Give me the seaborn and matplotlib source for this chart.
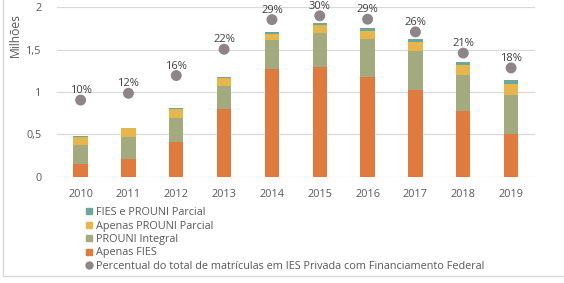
import matplotlib
matplotlib.use("Agg")
import matplotlib.pyplot as plt
import seaborn as sns
import numpy as np
import pandas as pd
from matplotlib.lines import Line2D
from matplotlib.patches import Rectangle

years = ["2010", "2011", "2012", "2013", "2014", "2015", "2016", "2017", "2018", "2019"]
apenas_fies = [0.146, 0.205, 0.41, 0.80, 1.27, 1.30, 1.18, 1.02, 0.78, 0.51]
prouni_integral = [0.234, 0.265, 0.28, 0.27, 0.34, 0.40, 0.45, 0.46, 0.42, 0.46]
apenas_prouni_parcial = [0.09, 0.10, 0.11, 0.09, 0.07, 0.09, 0.09, 0.11, 0.12, 0.12]
fies_prouni_parcial = [0.01, 0.01, 0.015, 0.02, 0.03, 0.02, 0.04, 0.04, 0.04, 0.05]
percentual = [10.0, 11.6, 15.8, 22.0, 29.0, 29.9, 29.1, 26.1, 21.1, 17.6]
pct_labels = ["10%", "12%", "16%", "22%", "29%", "30%", "29%", "26%", "21%", "18%"]

series_names = ["FIES e PROUNI Parcial", "Apenas PROUNI Parcial", "PROUNI Integral", "Apenas FIES"]
pct_name = "Percentual do total de matrículas em IES Privada com Financiamento Federal"

c_orange = "#E07B3F"
c_green = "#A3AA7E"
c_yellow = "#E6B54C"
c_teal = "#6FA69B"
c_gray = "#8E8589"
txt = "#595959"

sns.set_style("white")
plt.rcParams["font.family"] = ["Open Sans", "DejaVu Sans"]

fig = plt.figure(figsize=(5.64, 2.83), dpi=100)
ax = fig.add_axes([0.1005, 0.3756, 0.8481, 0.5984])

df = pd.DataFrame({
    "ano": years,
    "fies": apenas_fies,
    "integral": prouni_integral,
    "parcial": apenas_prouni_parcial,
    "ambos": fies_prouni_parcial,
})
df["c1"] = df["fies"]
df["c2"] = df["c1"] + df["integral"]
df["c3"] = df["c2"] + df["parcial"]
df["c4"] = df["c3"] + df["ambos"]

bw = 0.30
for col, color in [("c4", c_teal), ("c3", c_yellow), ("c2", c_green), ("c1", c_orange)]:
    sns.barplot(data=df, x="ano", y=col, color=color, width=bw, ax=ax,
                saturation=1, linewidth=0, order=years)

ax.set_ylim(0, 2)
ax.set_xlim(-0.5, len(years) - 0.5)
ax.set_yticks([0, 0.5, 1, 1.5, 2])
ax.set_yticklabels(["0", "0,5", "1", "1,5", "2"])
ax.yaxis.grid(True, color="#D9D9D9", linewidth=0.9)
ax.set_axisbelow(True)
for s in ax.spines.values():
    s.set_visible(False)
ax.tick_params(axis="both", length=0, labelsize=7.8, colors=txt)
ax.tick_params(axis="y", pad=11)
ax.tick_params(axis="x", pad=9)
ax.set_xlabel("")
ax.set_ylabel("Milhões", fontsize=8.7, color=txt)
ax.yaxis.set_label_coords(-0.072, 0.836)

ax2 = ax.twinx()
pdf = pd.DataFrame({"ano": np.arange(len(years)), "pct": percentual})
sns.scatterplot(data=pdf, x="ano", y="pct", ax=ax2, color=c_gray, s=62,
                edgecolor="none", legend=False)
ax2.set_ylim(-8.1, 31.9)
ax2.set_xlim(-0.5, len(years) - 0.5)
ax2.set_yticks([])
ax2.set_ylabel("")
ax2.set_xlabel("")
for s in ax2.spines.values():
    s.set_visible(False)
for i, (v, lab) in enumerate(zip(percentual, pct_labels)):
    ax2.annotate(lab, (i, v), xytext=(0, 6.8), textcoords="offset points",
                 ha="center", va="center", fontsize=8.0, color="#404040")

handles = [
    Line2D([], [], marker="s", linestyle="none", color=c_teal, markersize=5),
    Line2D([], [], marker="s", linestyle="none", color=c_yellow, markersize=5),
    Line2D([], [], marker="s", linestyle="none", color=c_green, markersize=5),
    Line2D([], [], marker="s", linestyle="none", color=c_orange, markersize=5),
    Line2D([], [], marker="o", linestyle="none", color=c_gray, markersize=5),
]
leg = fig.legend(handles, series_names + [pct_name], loc="upper left",
                 bbox_to_anchor=(0.152, 0.268), frameon=False, fontsize=7.85,
                 labelcolor=txt, handlelength=0.6, handletextpad=0.3,
                 labelspacing=0.22, borderpad=0, borderaxespad=0)

fig.patches.append(Rectangle((3 / 564, 1 - 276 / 283), 1.05, 1.05,
                             transform=fig.transFigure, fill=False,
                             edgecolor="#D9D9D9", linewidth=1))

fig.savefig("out.png", dpi=100)
